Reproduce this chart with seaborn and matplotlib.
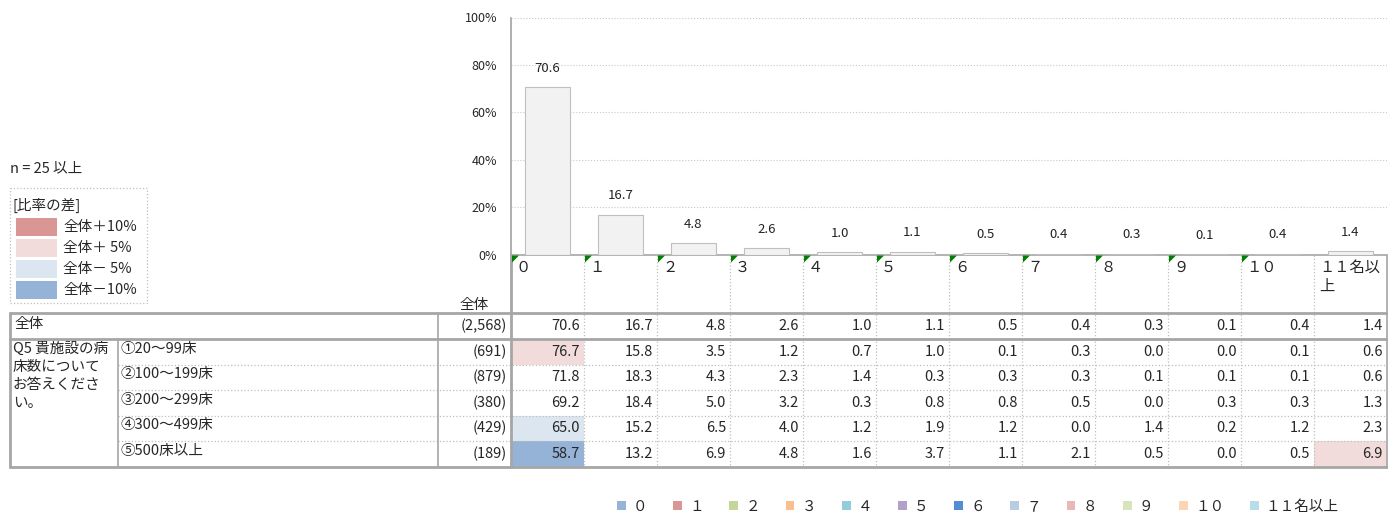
import pandas as pd
import seaborn as sns
import matplotlib.pyplot as plt
from matplotlib.patches import Rectangle, Polygon, Patch

# ---- data ----
categories = ["０", "１", "２", "３", "４", "５", "６", "７", "８", "９", "１０", "１１名以上"]
header_labels = ["０", "１", "２", "３", "４", "５", "６", "７", "８", "９", "１０", "１１名以\n上"]

total_label = "全体"
total_n = "(2,568)"
total_pct = [70.6, 16.7, 4.8, 2.6, 1.0, 1.1, 0.5, 0.4, 0.3, 0.1, 0.4, 1.4]

group_title = "Q5 貴施設の病\n床数について\nお答えくださ\nい。"
group_labels = ["①20～99床", "②100～199床", "③200～299床", "④300～499床", "⑤500床以上"]
group_n = ["(691)", "(879)", "(380)", "(429)", "(189)"]
pct_20_99 = [76.7, 15.8, 3.5, 1.2, 0.7, 1.0, 0.1, 0.3, 0.0, 0.0, 0.1, 0.6]
pct_100_199 = [71.8, 18.3, 4.3, 2.3, 1.4, 0.3, 0.3, 0.3, 0.1, 0.1, 0.1, 0.6]
pct_200_299 = [69.2, 18.4, 5.0, 3.2, 0.3, 0.8, 0.8, 0.5, 0.0, 0.3, 0.3, 1.3]
pct_300_499 = [65.0, 15.2, 6.5, 4.0, 1.2, 1.9, 1.2, 0.0, 1.4, 0.2, 1.2, 2.3]
pct_500_up = [58.7, 13.2, 6.9, 4.8, 1.6, 3.7, 1.1, 2.1, 0.5, 0.0, 0.5, 6.9]
group_pct = [pct_20_99, pct_100_199, pct_200_299, pct_300_499, pct_500_up]

diff_labels = ["全体＋10%", "全体＋ 5%", "全体－ 5%", "全体－10%"]
diff_colors = ["#DA9694", "#F2DCDB", "#DCE6F1", "#95B3D7"]

legend_colors = ["#95B3D7", "#DA9694", "#C4D79B", "#FABF8F", "#92CDDC", "#B1A0C7",
                 "#538DD5", "#B8CCE4", "#E6B8B7", "#D8E4BC", "#FCD5B4", "#B7DEE8"]

# ---- style ----
sns.set_theme(style="white")
plt.rcParams["font.family"] = ["Noto Sans CJK JP", "DejaVu Sans"]

W, H = 1388, 515
fig = plt.figure(figsize=(W / 100, H / 100), dpi=100)

# layout in pixels
col_x0, col_w = 511, 73.0
n_cols = len(categories)
col_edges = [col_x0 + i * col_w for i in range(n_cols + 1)]
y_axis_top, y_axis_bot = 17.5, 254.5
row_edges = [313, 339, 364.5, 390, 415.5, 441, 467]
tbl_left, lbl_split, n_left = 10, 118, 438

# overlay axes in pixel coordinates for the table
tab = fig.add_axes([0, 0, 1, 1])
tab.set_xlim(0, W)
tab.set_ylim(H, 0)
tab.axis("off")
tab.patch.set_alpha(0)

# ---- bar chart ----
ax = fig.add_axes([col_x0 / W, 1 - y_axis_bot / H,
                   (col_edges[-1] - col_x0) / W, (y_axis_bot - y_axis_top) / H])
df = pd.DataFrame({"cat": categories, "pct": total_pct})
sns.barplot(data=df, x="cat", y="pct", ax=ax, color="#F2F2F2",
            edgecolor="#BFBFBF", linewidth=0.8, width=0.63, saturation=1)
ax.bar_label(ax.containers[0], labels=[f"{v:.1f}" for v in total_pct],
             padding=9, fontsize=9.5, color="#222222")
ax.set_xlim(-0.5, n_cols - 0.5)
ax.set_ylim(0, 100)
ax.set_yticks(range(0, 101, 20))
ax.set_yticklabels([f"{v}%" for v in range(0, 101, 20)], fontsize=9)
ax.tick_params(axis="y", length=0, pad=10)
ax.set_xticks([])
ax.set_xlabel("")
ax.set_ylabel("")
ax.yaxis.grid(True, color="#C8C8C8", linestyle=":", linewidth=0.8)
ax.set_axisbelow(True)
for s in ["top", "right", "bottom"]:
    ax.spines[s].set_visible(False)
ax.spines["left"].set_color("#A6A6A6")
ax.patch.set_alpha(0)

# ---- table ----
def cell_color(v, base):
    d = v - base
    if d >= 10:
        return diff_colors[0]
    if d >= 5:
        return diff_colors[1]
    if d <= -10:
        return diff_colors[3]
    if d <= -5:
        return diff_colors[2]
    return None

for gi, vals in enumerate(group_pct):
    y0, y1 = row_edges[gi + 1], row_edges[gi + 2]
    for ci, v in enumerate(vals):
        c = cell_color(v, total_pct[ci])
        if c:
            tab.add_patch(Rectangle((col_edges[ci], y0), col_w, y1 - y0,
                                    facecolor=c, edgecolor="none", zorder=1))

solid = dict(color="#A6A6A6", linewidth=1.2, zorder=3)
thick = dict(color="#A6A6A6", linewidth=2.0, zorder=3)
dotted = dict(color="#BFBFBF", linewidth=0.9, linestyle=":", zorder=2)

# horizontal lines
tab.plot([col_x0, col_edges[-1]], [y_axis_bot, y_axis_bot], **solid)
tab.plot([tbl_left, col_edges[-1]], [row_edges[0], row_edges[0]], **thick)
tab.plot([tbl_left, col_edges[-1]], [row_edges[1], row_edges[1]], **thick)
for y in row_edges[2:-1]:
    tab.plot([lbl_split, col_edges[-1]], [y, y], **dotted)
tab.plot([tbl_left, col_edges[-1]], [row_edges[-1], row_edges[-1]], **thick)

# vertical lines
tab.plot([tbl_left, tbl_left], [row_edges[0], row_edges[-1]], **thick)
tab.plot([lbl_split, lbl_split], [row_edges[1], row_edges[-1]], **solid)
tab.plot([n_left, n_left], [row_edges[0], row_edges[-1]], **solid)
tab.plot([col_x0, col_x0], [y_axis_bot, row_edges[-1]], **thick)
for x in col_edges[1:-1]:
    tab.plot([x, x], [y_axis_bot, row_edges[-1]], **dotted)
tab.plot([col_edges[-1], col_edges[-1]], [y_axis_bot, row_edges[-1]], **solid)

# header labels with green markers
for ci, lab in enumerate(header_labels):
    x = col_edges[ci]
    tab.text(x + 5, y_axis_bot + 4, lab, fontsize=11, ha="left", va="top", zorder=4)
    if ci < n_cols - 1:
        tab.add_patch(Polygon([(x + 1, y_axis_bot + 1), (x + 8, y_axis_bot + 1),
                               (x + 1, y_axis_bot + 8)], closed=True,
                              facecolor="#008000", edgecolor="none", zorder=4))
tab.text((n_left + col_x0) / 2, 305, total_label, fontsize=10.5, ha="center", va="center")

# total row
ym = (row_edges[0] + row_edges[1]) / 2
tab.text(tbl_left + 4, ym - 2, total_label, fontsize=10.5, ha="left", va="center")
tab.text(col_x0 - 4, ym, total_n, fontsize=10.5, ha="right", va="center")
for ci, v in enumerate(total_pct):
    tab.text(col_edges[ci + 1] - 4, ym, f"{v:.1f}", fontsize=10.5, ha="right", va="center")

# group rows
tab.text(tbl_left + 3, row_edges[1] + 3, group_title, fontsize=10.5, ha="left", va="top",
         linespacing=1.35)
for gi, vals in enumerate(group_pct):
    ym = (row_edges[gi + 1] + row_edges[gi + 2]) / 2
    tab.text(lbl_split + 3, ym - 3, group_labels[gi], fontsize=10.5, ha="left", va="center")
    tab.text(col_x0 - 4, ym, group_n[gi], fontsize=10.5, ha="right", va="center")
    for ci, v in enumerate(vals):
        tab.text(col_edges[ci + 1] - 4, ym, f"{v:.1f}", fontsize=10.5, ha="right", va="center")

# ---- left legend for ratio difference ----
tab.text(10, 168, "n = 25 以上", fontsize=10.5, ha="left", va="center")
tab.add_patch(Rectangle((10, 188), 137, 115, facecolor="none", edgecolor="#BFBFBF",
                        linestyle=":", linewidth=0.9))
tab.text(13, 205, "[比率の差]", fontsize=10.5, ha="left", va="center")
for i, (lab, c) in enumerate(zip(diff_labels, diff_colors)):
    y = 218 + i * 21
    tab.add_patch(Rectangle((16, y), 41, 18, facecolor=c, edgecolor="none"))
    tab.text(63, y + 9, lab, fontsize=10.5, ha="left", va="center")

# ---- bottom legend ----
handles = [Patch(facecolor=c, edgecolor="none") for c in legend_colors]
fig.legend(handles, categories, loc="center", bbox_to_anchor=(978 / W, 1 - 507 / H),
           ncol=n_cols, frameon=False, fontsize=10.5, handlelength=0.6,
           handleheight=0.6, handletextpad=0.5, columnspacing=1.75)

fig.savefig("out.png", dpi=100)
